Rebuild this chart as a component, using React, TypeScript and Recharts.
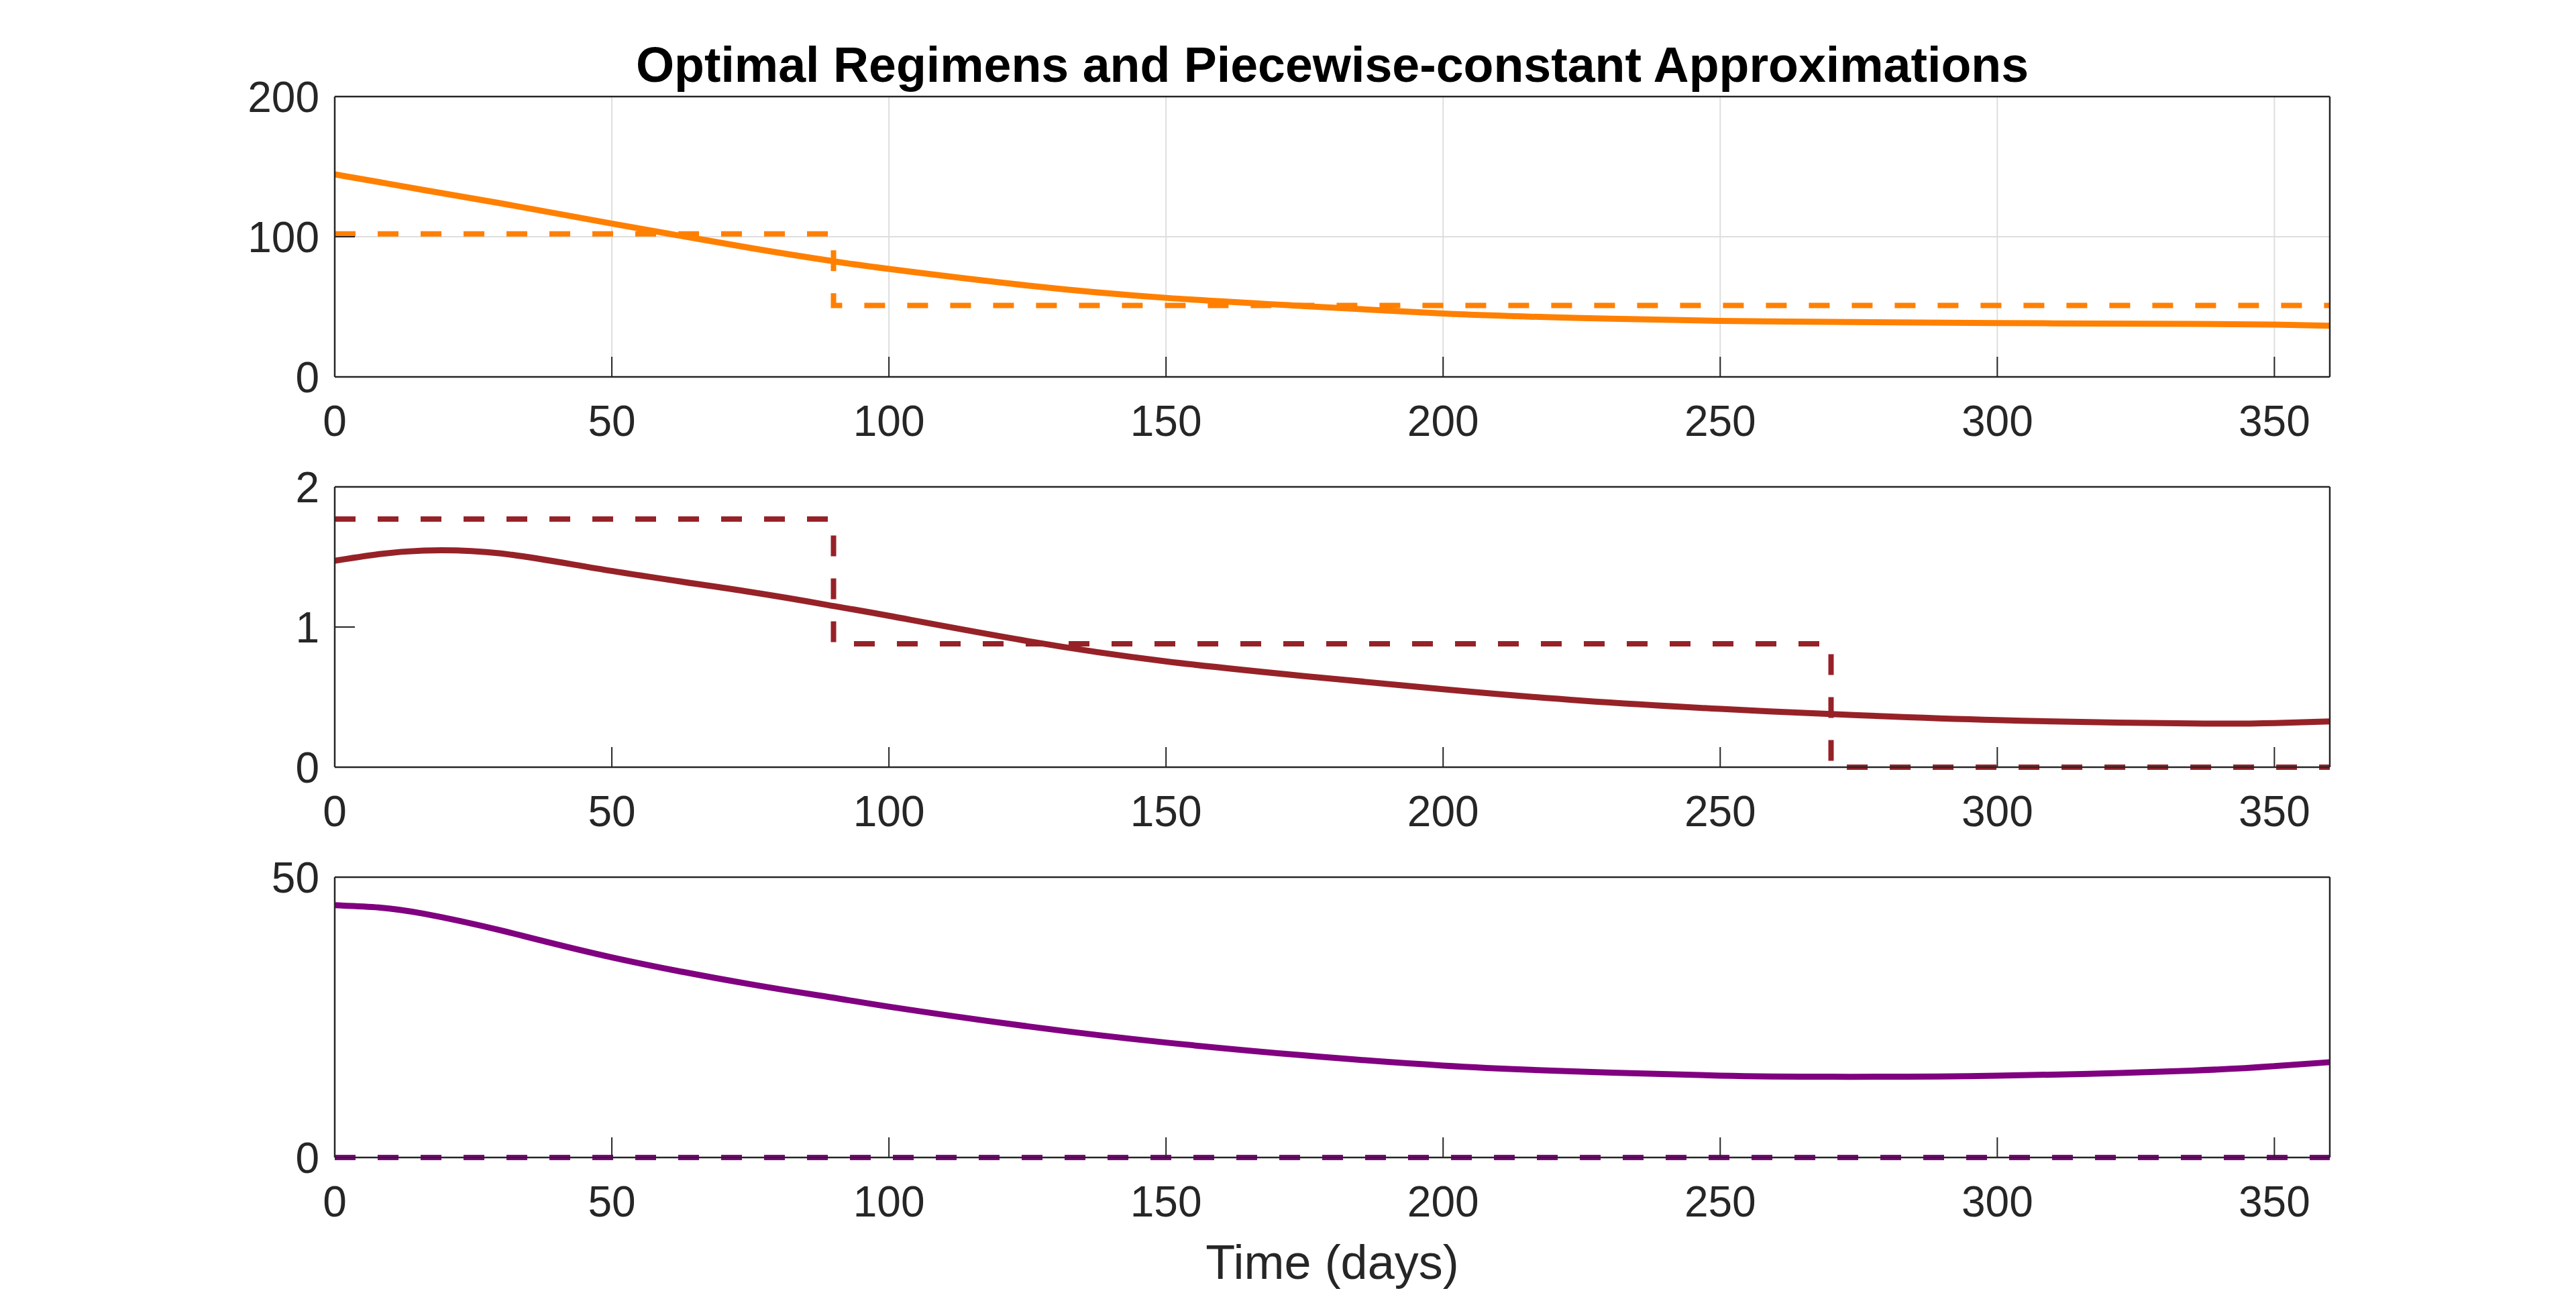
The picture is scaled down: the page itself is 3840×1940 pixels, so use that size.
import React from "react";
import { LineChart, Line, XAxis, YAxis, CartesianGrid } from "recharts";

// sample times of the optimal (continuous) regimens
const sampleDays = [0, 8, 16, 30, 50, 75, 90, 100, 125, 150, 175, 200, 225, 250, 270, 300, 335, 350, 360];
const drugAOptimal = [144.5, 139.0, 133.4, 123.8, 109.4, 92.0, 82.5, 77.0, 65.2, 56.4, 50.5, 45.2, 42.0, 40.0, 39.2, 38.4, 37.8, 37.3, 36.5];
const drugBOptimal = [1.473, 1.52, 1.546, 1.525, 1.40, 1.25, 1.15, 1.08, 0.9, 0.755, 0.65, 0.556, 0.475, 0.416, 0.379, 0.336, 0.312, 0.315, 0.326];
const drugCOptimal = [45.0, 44.6, 43.5, 40.5, 35.7, 30.9, 28.5, 26.9, 23.4, 20.5, 18.2, 16.4, 15.3, 14.6, 14.4, 14.6, 15.5, 16.3, 17.0];

// piecewise-constant approximations (value holds from each switch day on)
const switchDays = [0, 90, 270, 360];
const drugAPiecewise = [102, 51, 51, 51];
const drugBPiecewise = [1.77, 0.88, 0, 0];
const drugCPiecewise = [0, 0, 0, 0];

const xTicks = [0, 50, 100, 150, 200, 250, 300, 350];
const yTicksA = [0, 100, 200];
const yTicksB = [0, 1, 2];
const yTicksC = [0, 50];

const AXIS = "#262626";
const FONT = "'Liberation Sans', Arial, Helvetica, sans-serif";
const tickStyle = { fill: AXIS, fontSize: 64, fontFamily: FONT };
const axisLine = { stroke: AXIS, strokeWidth: 2.5 };
const tickLine = { stroke: AXIS, strokeWidth: 2 };

interface PanelProps {
  top: number;
  solid: number[];
  steps: number[];
  color: string;
  yTicks: number[];
  grid?: boolean;
}

const Panel = ({ top, solid, steps, color, yTicks, grid }: PanelProps) => {
  const solidData = sampleDays.map((t, i) => ({ t, v: solid[i] }));
  const stepData = switchDays.map((t, i) => ({ t, v: steps[i] }));
  const yDomain = [yTicks[0], yTicks[yTicks.length - 1]];
  return (
    <div style={{ position: "absolute", left: 0, top: top - 60 }}>
      <LineChart
        width={3840}
        height={588}
        margin={{ top: 59, right: 366, bottom: 0, left: 399 }}
      >
        {grid && <CartesianGrid stroke="#dedede" strokeWidth={2} />}
        <XAxis
          type="number"
          dataKey="t"
          domain={[0, 360]}
          ticks={xTicks}
          interval={0}
          height={110}
          tickSize={-30}
          tickMargin={73}
          tick={tickStyle}
          axisLine={axisLine}
          tickLine={tickLine}
        />
        <XAxis
          xAxisId="top"
          orientation="top"
          type="number"
          dataKey="t"
          domain={[0, 360]}
          ticks={xTicks}
          interval={0}
          height={1}
          tickSize={-30}
          tick={false}
          axisLine={axisLine}
          tickLine={tickLine}
        />
        <YAxis
          type="number"
          domain={yDomain}
          ticks={yTicks}
          interval={0}
          width={100}
          tickSize={-30}
          tickMargin={53}
          tick={tickStyle}
          axisLine={axisLine}
          tickLine={tickLine}
        />
        <YAxis
          yAxisId="right"
          orientation="right"
          type="number"
          domain={yDomain}
          ticks={yTicks}
          interval={0}
          width={1}
          tickSize={-30}
          tick={false}
          axisLine={axisLine}
          tickLine={tickLine}
        />
        <Line
          data={solidData}
          dataKey="v"
          type="natural"
          stroke={color}
          strokeWidth={9}
          dot={false}
          activeDot={false}
          isAnimationActive={false}
        />
        <Line
          data={stepData}
          dataKey="v"
          xAxisId="top"
          yAxisId="right"
          type="stepAfter"
          stroke={color}
          strokeWidth={8}
          strokeDasharray="31 33"
          dot={false}
          activeDot={false}
          isAnimationActive={false}
        />
      </LineChart>
    </div>
  );
};

const App = () => {
  return (
    <div
      style={{
        position: "absolute",
        left: 0,
        top: 0,
        width: 3840,
        height: 1940,
        background: "#ffffff",
      }}
    >
      <svg width={3840} height={1940} style={{ position: "absolute", left: 0, top: 0 }}>
        <text x={1986} y={122} textAnchor="middle" fontFamily={FONT} fontWeight="bold" fontSize={73.5} fill="#000000">
          Optimal Regimens and Piecewise-constant Approximations
        </text>
        <text x={1986} y={1907} textAnchor="middle" fontFamily={FONT} fontSize={72} fill={AXIS}>
          Time (days)
        </text>
      </svg>
      <Panel top={144} solid={drugAOptimal} steps={drugAPiecewise} color="#ff8000" yTicks={yTicksA} grid />
      <Panel top={726} solid={drugBOptimal} steps={drugBPiecewise} color="#962228" yTicks={yTicksB} />
      <Panel top={1308} solid={drugCOptimal} steps={drugCPiecewise} color="#800080" yTicks={yTicksC} />
    </div>
  );
};

export default App;
